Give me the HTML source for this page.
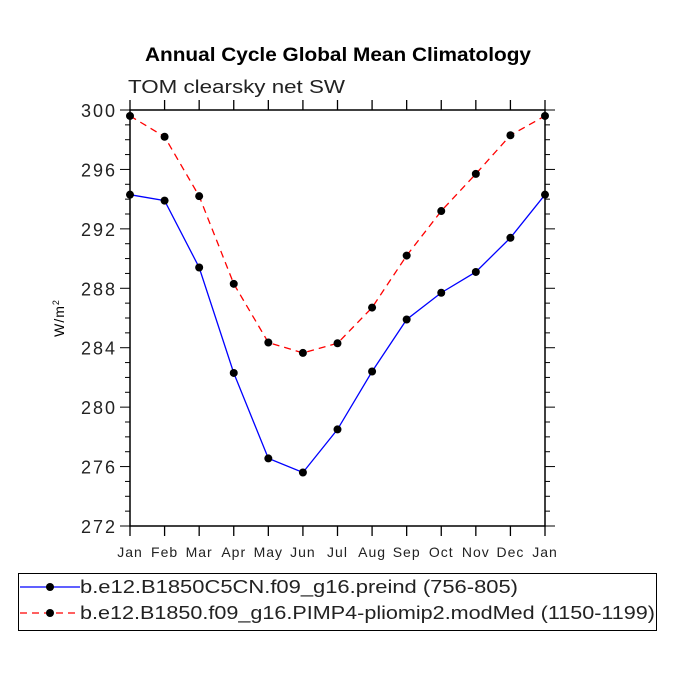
<!DOCTYPE html>
<html><head><meta charset="utf-8"><style>
body{margin:0;background:#fff;}
svg text{font-family:"Liberation Sans",sans-serif;}
</style></head><body>
<svg id="chart" width="675" height="675" viewBox="0 0 675 675" xmlns="http://www.w3.org/2000/svg">
<text x="145" y="61" textLength="386" lengthAdjust="spacingAndGlyphs" font-size="19" font-weight="bold">Annual Cycle Global Mean Climatology</text>
<text x="128" y="93" textLength="217" lengthAdjust="spacingAndGlyphs" font-size="18" fill="#222">TOM clearsky net SW</text>
<text transform="translate(64,318) rotate(-90)" text-anchor="middle" font-size="14" letter-spacing="1">W/m<tspan font-size="9" dy="-5">2</tspan></text>
<g id="axes"></g>
<g id="series"></g>
<g>
<rect x="18.5" y="573.5" width="638" height="57" fill="none" stroke="#000" stroke-width="1"/>
<line x1="20" y1="587" x2="80" y2="587" stroke="#0000ff" stroke-width="1.3"/>
<circle cx="50" cy="587" r="4" fill="#000"/>
<text x="80" y="593" textLength="438" lengthAdjust="spacingAndGlyphs" font-size="18" fill="#222">b.e12.B1850C5CN.f09_g16.preind (756-805)</text>
<line x1="20" y1="613" x2="80" y2="613" stroke="#ff0000" stroke-width="1.3" stroke-dasharray="7,5"/>
<circle cx="50" cy="613" r="4" fill="#000"/>
<text x="80" y="619" textLength="575" lengthAdjust="spacingAndGlyphs" font-size="18" fill="#222">b.e12.B1850.f09_g16.PIMP4-pliomip2.modMed (1150-1199)</text>
</g>
</svg>
<script>
const months = ["Jan","Feb","Mar","Apr","May","Jun","Jul","Aug","Sep","Oct","Nov","Dec","Jan"];
const preindValues = [294.3,293.9,289.4,282.3,276.55,275.6,278.5,282.4,285.9,287.7,289.1,291.4,294.3];
const pliomipValues = [299.6,298.2,294.2,288.3,284.35,283.65,284.3,286.7,290.2,293.2,295.7,298.3,299.6];
const yTicks = [272,276,280,284,288,292,296,300];

const L=130,R=545,T=110,B=526,yMin=272,yMax=300;
const xs=i=>L+(R-L)*i/(months.length-1);
const ys=v=>B-(v-yMin)/(yMax-yMin)*(B-T);
const NS="http://www.w3.org/2000/svg";
function mk(tag,attrs,parent){const e=document.createElementNS(NS,tag);for(const k in attrs)e.setAttribute(k,attrs[k]);parent.appendChild(e);return e;}
const ax=document.getElementById('axes');
const frame=mk('rect',{x:L,y:T,width:R-L,height:B-T,fill:'none',stroke:'#000','stroke-width':1.5},ax);


months.forEach((m,i)=>{
  const x=xs(i);
  mk('line',{x1:x,y1:B,x2:x,y2:B+10,stroke:'#000','stroke-width':1.3},ax);
  mk('line',{x1:x,y1:T,x2:x,y2:T-10,stroke:'#000','stroke-width':1.3},ax);
  const t=mk('text',{x:x,y:B+31,'text-anchor':'middle','font-size':14,'letter-spacing':1,fill:'#222'},ax);
  t.textContent=m;
  
  
});
for(let v=yMin;v<=yMax;v+=1){
  const y=ys(v),major=(v-yMin)%4===0;
  const len=major?10:5;
  mk('line',{x1:L,y1:y,x2:L-len,y2:y,stroke:'#000','stroke-width':1},ax);
  mk('line',{x1:R,y1:y,x2:R+len,y2:y,stroke:'#000','stroke-width':1},ax);
}
yTicks.forEach(v=>{
  const t=mk('text',{x:L-13,y:ys(v)+7,'text-anchor':'end','font-size':18,'letter-spacing':2,fill:'#222'},ax);
  t.textContent=v;
  
  
});
const sg=document.getElementById('series');
function series(vals,color,dash,name){
  const g=mk('g',{},sg);
  
  
  const p=mk('polyline',{points:vals.map((v,i)=>xs(i)+','+ys(v)).join(' '),fill:'none',stroke:color,'stroke-width':1.3},g);
  if(dash)p.setAttribute('stroke-dasharray',dash);
  vals.forEach((v,i)=>{
    const c=mk('circle',{cx:xs(i),cy:ys(v),r:4,fill:'#000'},g);
    
    
  });
}
series(preindValues,'#0000ff',null,'preind-series');
series(pliomipValues,'#ff0000','7,5','pliomip2-series');
</script>
</body></html>
